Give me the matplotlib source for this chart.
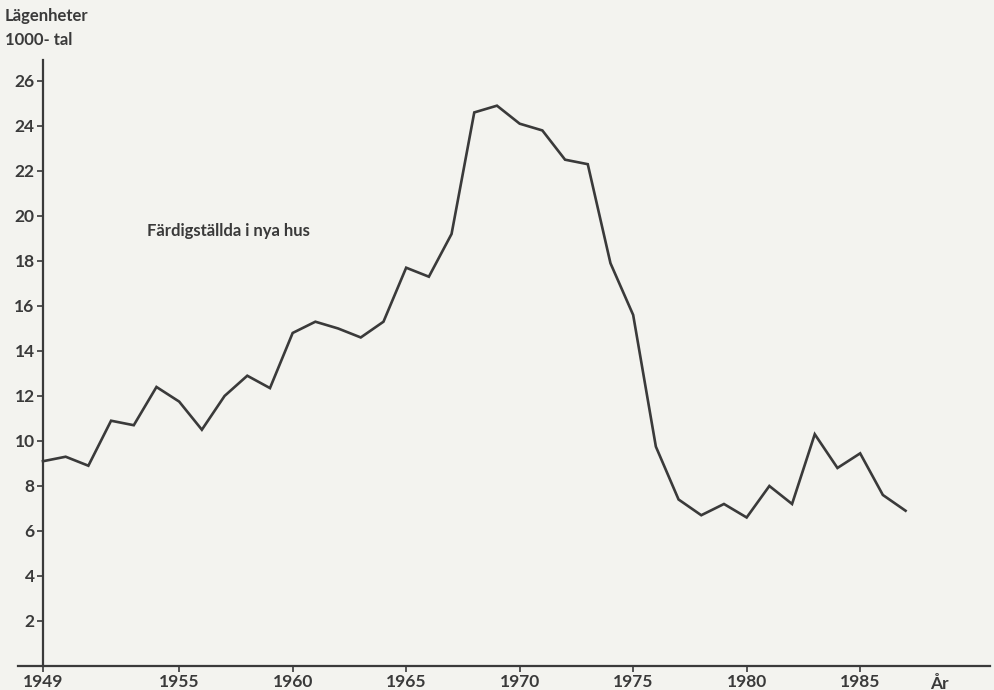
import matplotlib
matplotlib.use("Agg")
import matplotlib.pyplot as plt

# completed dwellings in new buildings, thousands per year
years = list(range(1949, 1988))
values = [9.1, 9.3, 8.9, 10.9, 10.7, 12.4, 11.75, 10.5, 12.0, 12.9, 12.35,
          14.8, 15.3, 15.0, 14.6, 15.3, 17.7, 17.3, 19.2, 24.6, 24.9,
          24.1, 23.8, 22.5, 22.3, 17.9, 15.6, 9.75, 7.4, 6.7, 7.2,
          6.6, 8.0, 7.2, 10.3, 8.8, 9.45, 7.6, 6.9]

x_ticks = [1949, 1955, 1960, 1965, 1970, 1975, 1980, 1985]
y_ticks = list(range(2, 27, 2))

ink = "#3a3a3a"
bg = "#f3f3ef"
plt.rcParams["font.family"] = ["Lato", "DejaVu Sans"]

W, H = 995, 690
fig = plt.figure(figsize=(W / 100, H / 100), dpi=100, facecolor=bg)
ax = fig.add_axes([18 / W, (H - 666) / H, (990 - 18) / W, (666 - 60) / H])
ax.set_facecolor(bg)

ax.plot(years, values, color=ink, lw=1.9, solid_joinstyle="miter")

ax.set_xlim(1947.9, 1990.72)
ax.set_ylim(0, 26.93)

for s in ["top", "right"]:
    ax.spines[s].set_visible(False)
ax.spines["left"].set_position(("data", 1949))
ax.spines["left"].set_color(ink)
ax.spines["bottom"].set_color(ink)
ax.spines["left"].set_linewidth(1.6)
ax.spines["bottom"].set_linewidth(1.6)

ax.set_xticks(x_ticks)
ax.set_xticklabels([str(y) for y in x_ticks])
ax.set_yticks(y_ticks)
ax.set_yticklabels([str(v) for v in y_ticks])
ax.tick_params(colors=ink, labelsize=12.5, length=4, width=1.2, pad=2)
for lab in ax.get_xticklabels() + ax.get_yticklabels():
    lab.set_fontweight("bold")

ax.text(1988.5, -0.78, "År", ha="center", va="center", fontsize=12.5,
        fontweight="bold", color=ink)
fig.text(5 / W, 1 - 16 / H, "Lägenheter", ha="left", va="center",
         fontsize=12, fontweight="bold", color=ink)
fig.text(5 / W, 1 - 40 / H, "1000- tal", ha="left", va="center",
         fontsize=12, fontweight="bold", color=ink)
ax.text(1953.6, (666 - 231) / 22.5, "Färdigställda i nya hus", ha="left",
        va="center", fontsize=12, fontweight="bold", color=ink)

fig.savefig("out.png", dpi=100, facecolor=bg)
